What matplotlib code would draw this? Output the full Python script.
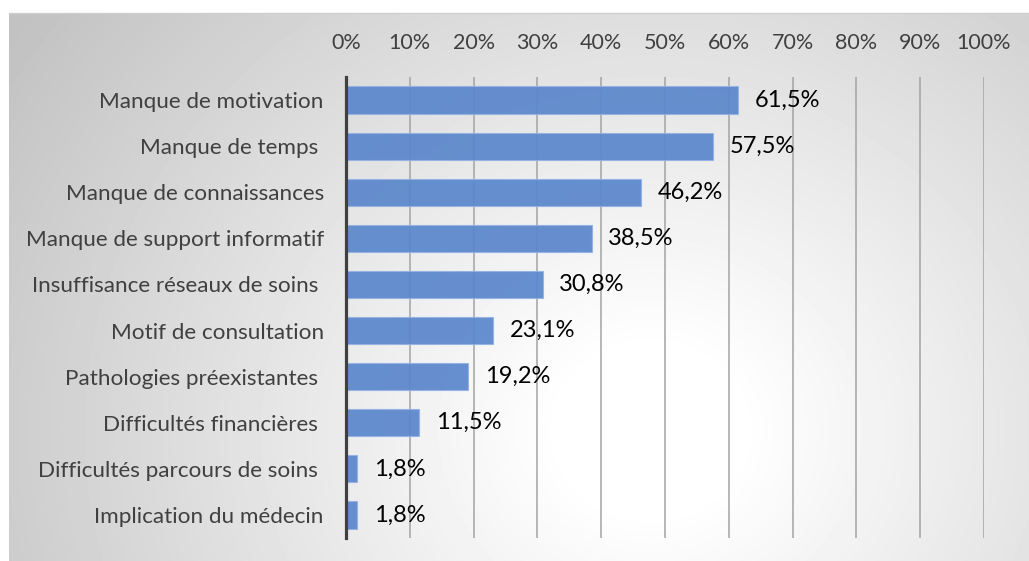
import numpy as np
import matplotlib
matplotlib.use("Agg")
from matplotlib import pyplot as plt
from matplotlib.ticker import FuncFormatter

plt.rcParams['font.family'] = ['Lato', 'DejaVu Sans']

categories = ['Manque de motivation', 'Manque de temps ', 'Manque de connaissances',
              'Manque de support informatif', 'Insuffisance réseaux de soins ',
              'Motif de consultation', 'Pathologies préexistantes ',
              'Difficultés financières ', 'Difficultés parcours de soins ',
              'Implication du médecin']
values = [61.5, 57.5, 46.2, 38.5, 30.8, 23.1, 19.2, 11.5, 1.8, 1.8]
labels = ['61,5%', '57,5%', '46,2%', '38,5%', '30,8%', '23,1%', '19,2%', '11,5%', '1,8%', '1,8%']

W, H = 1029, 561
fig = plt.figure(figsize=(W / 100, H / 100), dpi=100)

# radial grey background of the chart area
bg = fig.add_axes([9 / W, 0, 1 - 9 / W, 1 - 13 / H])
yy, xx = np.mgrid[13:H, 9:W]
r = np.hypot(xx - 650, (yy - 430) * 1.1)
shade = 1 - 0.24 * np.clip((r - 90) / 680, 0, 1)
bg.imshow(shade, cmap='gray', vmin=0, vmax=1, aspect='auto', interpolation='bilinear')
bg.axis('off')
fig.add_artist(plt.Line2D([9 / W, 1], [1 - 13 / H, 1 - 13 / H], color='#cfcfcf', lw=1))

ax = fig.add_axes([346 / W, 1 - 538 / H, 638 / W, 461 / H])
ax.patch.set_alpha(0)
y = np.arange(len(categories))
ax.barh(y, values, height=0.59, color='#5b87cc', edgecolor='#93b3e3', linewidth=0.8,
        alpha=0.93, zorder=3)
for yi, v, lab in zip(y, values, labels):
    ax.annotate(lab, (v, yi), xytext=(12, 0), textcoords='offset points',
                va='center', ha='left', fontsize=17, color='black')

ax.set_xlim(0, 100)
ax.set_ylim(len(categories) - 0.5, -0.5)
ax.set_xticks(np.arange(0, 101, 10))
ax.xaxis.set_major_formatter(FuncFormatter(lambda v, p: f'{v:.0f}%'))
ax.xaxis.tick_top()
ax.tick_params(axis='x', length=0, pad=17, labelsize=15.5, labelcolor='#404040')
ax.set_yticks(y)
ax.set_yticklabels(categories)
ax.tick_params(axis='y', length=0, pad=16, labelsize=16.2, labelcolor='#404040')
ax.grid(axis='x', color='#a3a3a3', linewidth=1.1, zorder=0)
for s in ['top', 'right', 'bottom']:
    ax.spines[s].set_visible(False)
ax.spines['left'].set_color('#404040')
ax.spines['left'].set_linewidth(2.3)
ax.spines['left'].set_zorder(4)

fig.savefig('out.png', dpi=100)
